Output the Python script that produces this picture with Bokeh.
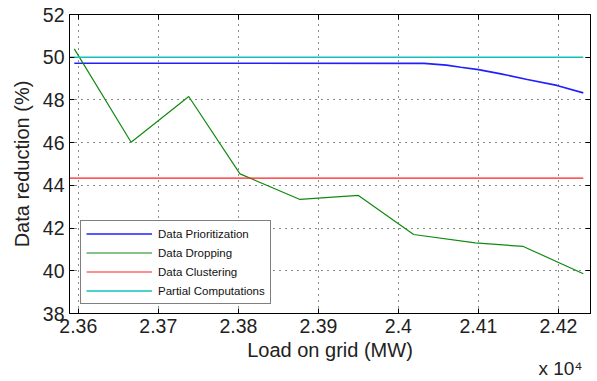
from bokeh.plotting import figure
from bokeh.models import (Range1d, FixedTicker, LinearAxis, Legend, LegendItem, Title)
from bokeh.embed import file_html
from bokeh.resources import INLINE

# ---- data ----
x_ticks = [23600, 23700, 23800, 23900, 24000, 24100, 24200]
x_tick_labels = ["2.36", "2.37", "2.38", "2.39", "2.4", "2.41", "2.42"]
x_exponent_label = "x 10\u2074"
y_ticks = [38, 40, 42, 44, 46, 48, 50, 52]

prio_x = [23595, 24032, 24060, 24078, 24100, 24128, 24161, 24198, 24231]
prio_y = [49.72, 49.71, 49.63, 49.53, 49.42, 49.22, 48.96, 48.68, 48.33]

drop_x = [23595, 23666, 23738, 23802, 23877, 23950, 24019, 24096, 24156, 24231]
drop_y = [50.39, 46.02, 48.16, 44.54, 43.34, 43.53, 41.70, 41.31, 41.14, 39.86]

clust_x = [23589, 24231]
clust_y = [44.34, 44.34]

part_x = [23589, 24231]
part_y = [50.0, 50.0]

series_names = ["Data Prioritization", "Data Dropping", "Data Clustering", "Partial Computations"]
series_colors = ["#2020ff", "#108a10", "#ff2020", "#10c0c0"]

FONT = "Liberation Sans"

p = figure(width=597, height=381, output_backend="svg", toolbar_location=None,
           x_range=Range1d(23589, 24240), y_range=Range1d(38, 52),
           min_border_left=69, min_border_right=7, min_border_top=14, min_border_bottom=68)
p.background_fill_color = "white"
p.border_fill_color = "white"
p.outline_line_color = "black"
p.outline_line_width = 1

r1 = p.line(prio_x, prio_y, line_color=series_colors[0], line_width=1.6)
r2 = p.line(drop_x, drop_y, line_color=series_colors[1], line_width=1.2)
r3 = p.line(clust_x, clust_y, line_color=series_colors[2], line_width=1.2)
r4 = p.line(part_x, part_y, line_color=series_colors[3], line_width=1.5)

# axes
p.xaxis.ticker = FixedTicker(ticks=x_ticks)
p.xaxis.major_label_overrides = {t: l for t, l in zip(x_ticks, x_tick_labels)}
p.yaxis.ticker = FixedTicker(ticks=y_ticks)
for ax in (p.xaxis, p.yaxis):
    ax.major_tick_in = 5
    ax.major_tick_out = 0
    ax.minor_tick_line_color = None
    ax.axis_line_color = "black"
    ax.major_tick_line_color = "black"
    ax.major_label_text_font = FONT
    ax.major_label_text_font_size = "19.5px"
    ax.major_label_text_color = "#222222"
    ax.axis_label_text_font = FONT
    ax.axis_label_text_font_size = "20px"
    ax.axis_label_text_font_style = "normal"
    ax.axis_label_text_color = "#222222"
p.xaxis.axis_label = "Load on grid (MW)"
p.yaxis.axis_label = "Data reduction (%)"
p.xaxis.major_label_standoff = 5
p.xaxis.axis_label_standoff = 3
p.yaxis.major_label_standoff = 5
p.yaxis.axis_label_standoff = 7

# box ticks on top and right (no labels)
top_ax = LinearAxis(ticker=FixedTicker(ticks=x_ticks), major_tick_in=5, major_tick_out=0,
                    minor_tick_line_color=None, major_label_standoff=0,
                    major_label_text_font_size="10px",
                    major_label_overrides={t: "" for t in x_ticks}, axis_line_color="black")
right_ax = LinearAxis(ticker=FixedTicker(ticks=y_ticks), major_tick_in=5, major_tick_out=0,
                      minor_tick_line_color=None, major_label_standoff=0,
                      major_label_text_font_size="10px",
                      major_label_overrides={t: "" for t in y_ticks}, axis_line_color="black")
p.add_layout(top_ax, "above")
p.add_layout(right_ax, "right")

# grid
for g in (p.xgrid, p.ygrid):
    g.grid_line_color = "black"
    g.grid_line_dash = "1 5"
    g.grid_line_width = 1
    g.grid_line_alpha = 0.9
p.xgrid.ticker = FixedTicker(ticks=x_ticks)
p.ygrid.ticker = FixedTicker(ticks=y_ticks)

# legend
legend = Legend(items=[LegendItem(label=n, renderers=[r]) for n, r in zip(series_names, [r1, r2, r3, r4])],
                location=(11, 9), orientation="vertical",
                label_text_font=FONT, label_text_font_size="11.5px", label_text_color="#111111",
                glyph_width=66, glyph_height=15, label_height=15, label_standoff=6,
                spacing=4, padding=5, margin=0,
                border_line_color="black", border_line_width=1,
                background_fill_color="white", background_fill_alpha=1)
p.add_layout(legend, "center")

# exponent annotation below the x axis, right-aligned
exp_title = Title(text=x_exponent_label, align="right", vertical_align="top",
                  standoff=-12, offset=8, text_font=FONT, text_font_size="19px",
                  text_font_style="normal", text_color="#222222")
p.add_layout(exp_title, "below")

open("out.html", "w").write(file_html(p, INLINE))
